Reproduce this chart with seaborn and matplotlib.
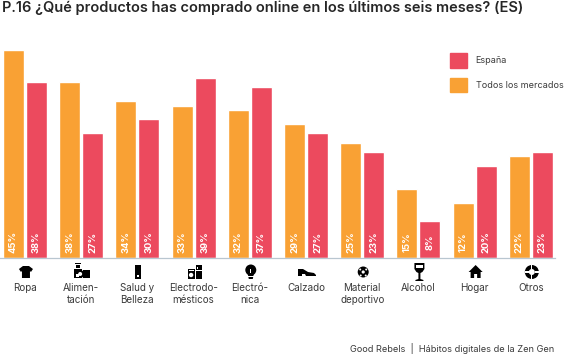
import matplotlib
matplotlib.use("Agg")
import matplotlib.pyplot as plt
import pandas as pd
import seaborn as sns
from matplotlib.patches import Circle, Polygon, Rectangle, Patch
from matplotlib.transforms import Affine2D

# data
categorias = ["Ropa", "Alimen-\ntación", "Salud y\nBelleza", "Electrodo-\nmésticos", "Electró-\nnica",
              "Calzado", "Material\ndeportivo", "Alcohol", "Hogar", "Otros"]
todos = [45, 38, 34, 33, 32, 29, 25, 15, 12, 22]
espana = [38, 27, 30, 39, 37, 27, 23, 8, 20, 23]

NARANJA = "#F9A134"
ROJO = "#EC4A5E"
TEXTO = "#3A3A3A"
FUENTE = "Inter"

df = pd.DataFrame({
    "producto": categorias * 2,
    "pct": todos + espana,
    "mercado": ["Todos los mercados"] * 10 + ["España"] * 10,
})

W, H = 564, 357
sns.set_theme(style="white")
plt.rcParams["font.family"] = [FUENTE, "DejaVu Sans"]

fig = plt.figure(figsize=(W / 100, H / 100), dpi=100)
ax = fig.add_axes([0, (H - 258) / H, 555 / W, 218 / H])

sns.barplot(data=df, x="producto", y="pct", hue="mercado",
            hue_order=["Todos los mercados", "España"],
            palette={"Todos los mercados": NARANJA, "España": ROJO},
            width=0.817, gap=0.087, saturation=1, legend=False, ax=ax)

ax.set_xlim(-0.444, 9.43)
ax.set_ylim(0, 47.2)
ax.set_xlabel("")
ax.set_ylabel("")
ax.set_yticks([])
ax.tick_params(axis="x", length=0, pad=18, labelsize=7.1, labelcolor=TEXTO)
sns.despine(ax=ax, left=True)
ax.spines["bottom"].set_color("#B9C6D0")
ax.spines["bottom"].set_linewidth(0.9)

# white percentages at the foot of each bar
for cont, vals in zip(ax.containers, [todos, espana]):
    for bar, v in zip(cont, vals):
        ax.text(bar.get_x() + bar.get_width() / 2, 3.4, f"{v}%", rotation=90, color="white",
                fontsize=6.8, fontweight="bold", ha="center", va="center")

ax.legend(handles=[Patch(color=ROJO, label="España"), Patch(color=NARANJA, label="Todos los mercados")],
          loc="upper left", bbox_to_anchor=(450 / W, (H - 53) / H), bbox_transform=fig.transFigure,
          frameon=False, fontsize=6.5, labelcolor=TEXTO, handlelength=1.9, handleheight=2.1,
          labelspacing=1.15, handletextpad=0.95, borderpad=0, borderaxespad=0)

fig.text(2 / W, (H - 8) / H, "P.16 ¿Qué productos has comprado online en los últimos seis meses? (ES)",
         fontsize=10.5, fontweight="semibold", color="#262626", ha="left", va="center")
fig.text(554 / W, (H - 349) / H, "Good Rebels  |  Hábitos digitales de la Zen Gen",
         fontsize=6.6, color=TEXTO, ha="right", va="center")

# small pictograms under the axis, local pixel coordinates with y up
N, B = "black", "white"
iconos = [
    [("p", [(-3, 6), (3, 6), (7, 3), (5, 0), (4, 1), (4, -6), (-4, -6), (-4, 1), (-5, 0), (-7, 3)], N)],
    [("r", (-8, -6, 8, 9), N), ("r", (-6, 4, 4, 3), N), ("r", (-7, 8, 6, 1.5), N), ("r", (1, -6, 7, 8), N),
     ("c", (-2, -2, 4), N), ("c", (-2, -2, 2), B), ("r", (-6.5, -5, 3, 3), B)],
    [("r", (-3, -7, 6, 14), N), ("r", (-1, -5, 2, 2), B)],
    [("r", (-7, -7, 7, 10), N), ("r", (1, -7, 6, 14), N), ("c", (-3.5, -3, 2.2), B), ("r", (-6, 1, 5, 0.8), B),
     ("r", (1, 1, 6, 0.8), B), ("r", (2, 3, 1, 2), B)],
    [("c", (0, 2, 5.5), N), ("p", [(-3, -2), (3, -2), (2, -7), (-2, -7)], N), ("r", (-3, -4.5, 6, 0.8), B),
     ("r", (-0.6, -1, 1.2, 4), B)],
    [("p", [(-9, 3), (-4, 3), (1, 0), (7, -1), (9, -3), (9, -4), (-1, -4), (-2, -2), (-5, -2), (-5, -4), (-9, -4)], N)],
    [("c", (0, 0, 5.5), N), ("c", (0, 0, 1.6), B), ("c", (-3, 2.5, 1), B), ("c", (3, 2.5, 1), B),
     ("c", (-2.5, -3.5, 1), B), ("c", (2.5, -3.5, 1), B)],
    [("p", [(-5, 9), (5, 9), (5, 3), (3, 0), (1, -1), (1, -7), (4, -8), (4, -9), (-4, -9), (-4, -8), (-1, -7), (-1, -1),
            (-3, 0), (-5, 3)], N), ("r", (-3.7, 4, 7.4, 3.5), B)],
    [("p", [(0, 7), (7, 0), (5, 0), (5, -6), (1.5, -6), (1.5, -2), (-1.5, -2), (-1.5, -6), (-5, -6), (-5, 0), (-7, 0)], N)],
    [("c", (0, 0, 7), N), ("c", (0, 0, 3), B), ("r", (-0.6, 3, 1.2, 4), B), ("r", (-0.6, -7, 1.2, 4), B),
     ("r", (3, -0.6, 4, 1.2), B), ("r", (-7, -0.6, 4, 1.2), B)],
]

for i, formas in enumerate(iconos):
    cx = ax.transData.transform((i, 0))[0]
    tr = Affine2D().translate(cx + 1, H - 272)
    for tipo, g, color in formas:
        if tipo == "p":
            art = Polygon(g, closed=True, fc=color, ec="none")
        elif tipo == "r":
            art = Rectangle(g[:2], g[2], g[3], fc=color, ec="none")
        else:
            art = Circle(g[:2], g[2], fc=color, ec="none")
        art.set_transform(tr)
        art.set_clip_on(False)
        ax.add_artist(art)

fig.savefig("out.png", dpi=100)
plt.close(fig)
